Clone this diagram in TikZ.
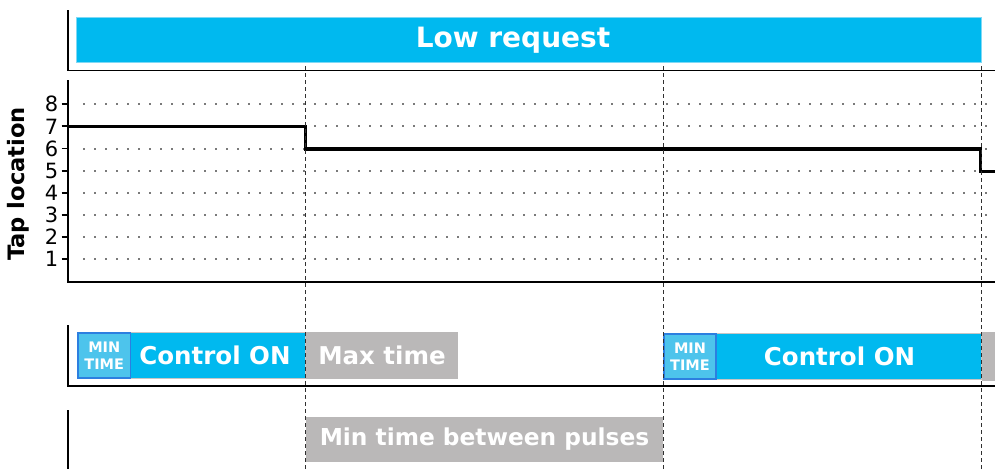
\documentclass[tikz,border=0pt]{standalone}
\usepackage{fontspec}
\setmainfont{DejaVu Sans}
\definecolor{cyanbar}{HTML}{00B9EF}
\definecolor{cyanedge}{HTML}{7FD9F5}
\definecolor{minfill}{HTML}{4DC4EC}
\definecolor{minedge}{HTML}{2C7FE0}
\definecolor{graybar}{HTML}{BAB8B8}
\definecolor{gridgray}{HTML}{7A7A7A}
\definecolor{dashgray}{HTML}{303030}
\begin{document}
\begin{tikzpicture}[x=1pt,y=-1pt,
  axis/.style={line width=1.8pt, black},
  gridline/.style={line width=2pt, gridgray, dash pattern=on 2pt off 9pt},
  marker/.style={line width=1.2pt, dashgray, dash pattern=on 4pt off 3pt},
  signal/.style={line width=3.2pt, black},
  boxnode/.style={anchor=north west, inner sep=0pt, outer sep=0pt},
  btext/.style={text=white, font=\bfseries\fontsize{24.5}{26}\selectfont, inner sep=0pt},
  mintext/.style={text=white, font=\bfseries\fontsize{14.5}{16.5}\selectfont, align=center, inner sep=0pt},
  tick/.style={font=\fontsize{21}{22}\selectfont, anchor=east, inner sep=0pt}
]
\useasboundingbox (0,0) rectangle (995,469);

% ---------- top panel ----------
\draw[axis] (68,10) -- (68,70.5) -- (995,70.5);
\node[boxnode, fill=cyanbar, draw=cyanedge, line width=0.8pt,
      minimum width=905.7pt, minimum height=45pt] (low) at (76,17.3) {};
\node[btext, font=\bfseries\fontsize{28}{30}\selectfont] (lowtxt) at (513,40.5) {Low request};

% ---------- tap location panel ----------
\draw[axis] (68,80) -- (68,282) -- (995,282);
\foreach \k in {1,...,8} {
  \pgfmathsetmacro{\yy}{281.4-22.15*\k}
  \draw[gridline] (83,\yy) -- (995,\yy);
  \draw[axis] (61.5,\yy) -- (68,\yy);
  \node[tick] (lab\k) at (58.5,\yy) {\k};
}
\node[rotate=90, font=\bfseries\fontsize{22.6}{24}\selectfont, inner sep=0pt] (ylab) at (18,184) {Tap location};
\draw[signal] (68,126.7) -- (305.7,126.7) -- (305.7,149) -- (980.7,149) -- (980.7,171.3) -- (995,171.3);

% ---------- control panel ----------
\draw[axis] (68,325) -- (68,386) -- (995,386);
\node[boxnode, fill=cyanbar, draw=gray!45, line width=0.8pt,
      minimum width=227.7pt, minimum height=46pt] (ctrl1) at (78,332) {};
\node[boxnode, fill=minfill, draw=minedge, line width=1.2pt,
      minimum width=52.5pt, minimum height=45pt] (min1) at (78,333) {};
\node[mintext] (min1t) at (min1.center) {MIN\\TIME};
\node[btext] (ctrl1t) at (215,355.5) {Control ON};
\node[boxnode, fill=graybar, minimum width=152pt, minimum height=46.4pt] (max) at (305.7,332.3) {};
\node[btext] (maxt) at (382,355.5) {Max time};

\node[boxnode, fill=cyanbar, draw=gray!45, line width=0.8pt,
      minimum width=318.4pt, minimum height=46pt] (ctrl2) at (663.3,333.3) {};
\node[boxnode, fill=minfill, draw=minedge, line width=1.2pt,
      minimum width=52pt, minimum height=45pt] (min2) at (664,334) {};
\node[mintext] (min2t) at (min2.center) {MIN\\TIME};
\node[btext] (ctrl2t) at (839.5,356.5) {Control ON};
\node[boxnode, fill=graybar, minimum width=13.3pt, minimum height=48.7pt] (gray2) at (981.7,332) {};

% ---------- bottom panel ----------
\draw[axis] (68,410) -- (68,469);
\node[boxnode, fill=graybar, minimum width=357.6pt, minimum height=44.4pt] (pulse) at (305.7,417.3) {};
\node[btext, font=\bfseries\fontsize{23.3}{25}\selectfont] (pulset) at (pulse.center) {Min time between pulses};

% ---------- vertical markers ----------
\coordinate (m1t) at (305.7,66); \coordinate (m1b) at (305.7,469);
\coordinate (m2t) at (663.3,66); \coordinate (m2b) at (663.3,469);
\coordinate (m3t) at (981.2,66); \coordinate (m3b) at (981.2,469);
\draw[marker] (m1t) -- (m1b);
\draw[marker] (m2t) -- (m2b);
\draw[marker] (m3t) -- (m3b);
\end{tikzpicture}
\end{document}
